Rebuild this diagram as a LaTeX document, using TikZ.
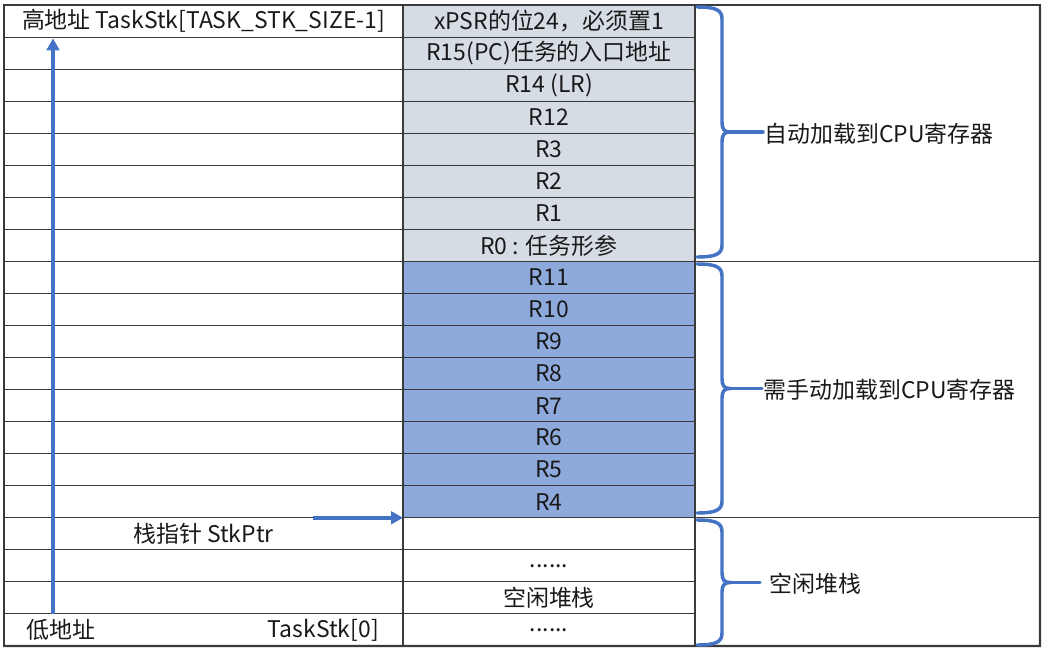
\documentclass[tikz,border=0pt]{standalone}
\usepackage{fontspec}
\setmainfont{Noto Sans CJK SC}
\usetikzlibrary{arrows.meta}

\definecolor{regauto}{HTML}{D6DCE4}
\definecolor{regman}{HTML}{8EA9DB}
\definecolor{markblue}{HTML}{4472C4}
\definecolor{gridline}{HTML}{3A3A3A}
\newcommand\cellfont{\fontsize{17.2pt}{19pt}\selectfont}
\newcommand\sixdots{......}

\begin{document}
\begin{tikzpicture}[
    x=0.75pt, y=-0.75pt,
    regcell/.style={rectangle, draw=gridline, line width=0.8pt, anchor=north west, inner sep=0pt, outer sep=0pt, minimum width=219pt, minimum height=24.04pt, font=\cellfont, text=black!90},
    addrcell/.style={rectangle, draw=gridline, line width=0.8pt, anchor=north west, inner sep=0pt, outer sep=0pt, minimum width=299.25pt, minimum height=24.04pt},
    grpcell/.style={rectangle, draw=gridline, line width=0.8pt, anchor=north west, inner sep=0pt, outer sep=0pt, minimum width=258.75pt},
    celltext/.style={font=\cellfont, text=black!90, inner sep=1pt},
    brace/.style={draw=markblue, line width=2.6pt, line cap=round},
    arrow/.style={-{Triangle[length=9pt, width=9.5pt]}, line width=2.8pt, draw=markblue}
]
    \useasboundingbox (0,0) rectangle (1046,653);

    % Stack cells
    \foreach \txt [count=\n from 0] in {xPSR的位24，必须置1, R15(PC)任务的入口地址, R14 (LR), R12, R3, R2, R1, R0 : 任务形参,
        R11, R10, R9, R8, R7, R6, R5, R4, {}, \sixdots, 空闲堆栈, \sixdots} {
        \ifnum\n<8 \def\cf{regauto}\else\ifnum\n<16 \def\cf{regman}\else\def\cf{white}\fi\fi
        \node[addrcell] (l\n) at (4, {5+32.05*\n}) {};
        \node[regcell, fill=\cf] (r\n) at (403, {5+32.05*\n}) {\txt};
    }

    % Group column
    \node[grpcell, minimum height=192.3pt] (gauto) at (695, 5) {};
    \node[grpcell, minimum height=192.3pt] (gman) at (695, 261.4) {};
    \node[grpcell, minimum height=96.15pt] (gfree) at (695, 517.8) {};
    \draw[draw=gridline, line width=1.6pt] (l19.south west) -- (gfree.south east) -- (gauto.north east);

    % Address texts
    \node[celltext] (hiaddr) at (l0) {高地址 TaskStk[TASK\_STK\_SIZE-1]};
    \node[celltext] (sptr) at (l16) {栈指针 StkPtr};
    \node[celltext, anchor=west] (loaddr) at ([xshift=16pt]l19.west) {低地址};
    \node[celltext, anchor=east] (stk0) at ([xshift=-17pt]l19.east) {TaskStk[0]};

    % Arrows
    \coordinate (upx) at (53, 0);
    \coordinate (sp) at ([xshift=-67.5pt]r15.south west);
    \draw[arrow] (l19.north -| upx) -- ([yshift=-1pt]l0.south -| upx);
    \draw[arrow] (sp) -- (r15.south west);

    % Braces
    \foreach \g/\t/\b in {gauto/7/257, gman/264/513, gfree/520/645} {
        \pgfmathsetmacro\m{(\t+\b)/2}
        \draw[brace] (697,\t) .. controls (716,\t) and (722,{\t+3}) .. (722,{\t+12})
            -- (722,{\m-10}) .. controls (722,{\m-3}) and (724,\m) .. (730,\m)
            .. controls (724,\m) and (722,{\m+3}) .. (722,{\m+10})
            -- (722,{\b-12}) .. controls (722,{\b-3}) and (716,\b) .. (697,\b);
        \coordinate (tip-\g) at (730,\m);
    }
    \node[celltext, anchor=west] (autolbl) at (763, 134) {自动加载到CPU寄存器};
    \node[celltext, anchor=west] (manlbl) at (762, 390) {需手动加载到CPU寄存器};
    \node[celltext, anchor=west] (freelbl) at (768, 584) {空闲堆栈};
    \draw[brace] (tip-gauto) -- (autolbl.west |- tip-gauto);
    \draw[brace] (tip-gman) -- (manlbl.west |- tip-gman);
    \draw[brace] (tip-gfree) -- ([xshift=-6pt]freelbl.west |- tip-gfree);
\end{tikzpicture}
\end{document}
